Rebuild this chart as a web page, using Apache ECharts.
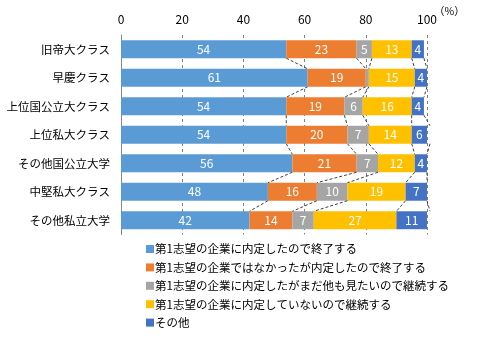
<!DOCTYPE html>
<html>
<head>
<meta charset="utf-8">
<script src="https://cdn.jsdelivr.net/npm/echarts@6/dist/echarts.min.js"></script>
<style>
html,body{margin:0;padding:0;background:#fff;}
#c{width:479px;height:338px;}
</style>
</head>
<body>
<div id="c"></div>
<script>
const categories = ['旧帝大クラス','早慶クラス','上位国公立大クラス','上位私大クラス','その他国公立大学','中堅私大クラス','その他私立大学'];
const seriesNames = [
  '第1志望の企業に内定したので終了する',
  '第1志望の企業ではなかったが内定したので終了する',
  '第1志望の企業に内定したがまだ他も見たいので継続する',
  '第1志望の企業に内定していないので継続する',
  'その他'
];
const endedFirstChoice = [54, 61, 54, 54, 56, 48, 42];
const endedOther       = [23, 19, 19, 20, 21, 16, 14];
const continueLooking  = [5, 1, 6, 7, 7, 10, 7];
const continueNoOffer  = [13, 15, 16, 14, 12, 19, 27];
const others           = [4, 4, 4, 6, 4, 7, 11];
const xTicks = [0, 20, 40, 60, 80, 100];
const unitLabel = '（%）';

const values = [endedFirstChoice, endedOther, continueLooking, continueNoOffer, others];
const colors = ['#5B9BD5', '#ED7D31', '#A5A5A5', '#FFC000', '#4472C4'];
const FONT = '"Noto Sans CJK JP", "Noto Sans", sans-serif';

const chart = echarts.init(document.getElementById('c'));

const barSeries = values.map((arr, k) => ({
  name: seriesNames[k],
  type: 'bar',
  stack: 'total',
  barWidth: '63%',
  data: arr,
  itemStyle: { color: colors[k] },
  label: {
    show: true,
    position: 'inside',
    color: '#fff',
    fontSize: 12,
    fontFamily: FONT,
    formatter: p => (p.value >= 3 ? String(p.value) : '')
  },
  z: 2
}));

function cumAt(i, k) {
  let s = 0;
  for (let j = 0; j <= k; j++) s += values[j][i];
  return s;
}

const connectorSeries = {
  type: 'custom',
  name: 'connectors',
  data: categories.slice(0, -1).map((c, i) => [i]),
  encode: { y: 0 },
  z: 5,
  silent: true,
  renderItem: function (params, api) {
    const i = params.dataIndex;
    const band = api.size([0, 1])[1];
    const half = band * 0.63 / 2;
    const children = [];
    for (let k = 0; k < values.length; k++) {
      const p1 = api.coord([cumAt(i, k), i]);
      const p2 = api.coord([cumAt(i + 1, k), i + 1]);
      children.push({
        type: 'line',
        shape: { x1: p1[0], y1: p1[1] + half, x2: p2[0], y2: p2[1] - half },
        style: { stroke: '#404040', lineWidth: 1, lineDash: [3, 2] }
      });
    }
    return { type: 'group', children: children };
  }
};

chart.setOption({
  animation: false,
  textStyle: { fontFamily: FONT },
  grid: { left: 121, right: 52, top: 35, height: 199.5, containLabel: false },
  legend: {
    data: seriesNames,
    orient: 'vertical',
    left: 146,
    top: 242,
    padding: 0,
    height: 96,
    icon: 'rect',
    itemWidth: 8,
    itemHeight: 8,
    itemGap: 4.4,
    textStyle: { fontSize: 11.5, color: '#000', fontFamily: FONT, padding: [0, 0, 0, -4], lineHeight: 14 }
  },
  graphic: [{
    type: 'text',
    left: 434,
    top: 6,
    style: { text: unitLabel, fontSize: 10.5, fill: '#000', fontFamily: FONT }
  }],
  xAxis: {
    type: 'value',
    position: 'top',
    min: xTicks[0],
    max: xTicks[xTicks.length - 1],
    interval: xTicks[1] - xTicks[0],
    axisLine: { show: false },
    axisTick: { show: false },
    axisLabel: { color: '#000', fontSize: 12, fontFamily: FONT, margin: 10 },
    splitLine: { show: true, lineStyle: { color: '#7f7f7f', type: [3, 3], width: 1 } }
  },
  yAxis: {
    type: 'category',
    inverse: true,
    data: categories,
    axisLine: { show: true, lineStyle: { color: '#868686', width: 1 } },
    axisTick: { show: false },
    axisLabel: { color: '#000', fontSize: 11.5, fontFamily: FONT, margin: 11 }
  },
  series: barSeries.concat([connectorSeries])
});
</script>
</body>
</html>
